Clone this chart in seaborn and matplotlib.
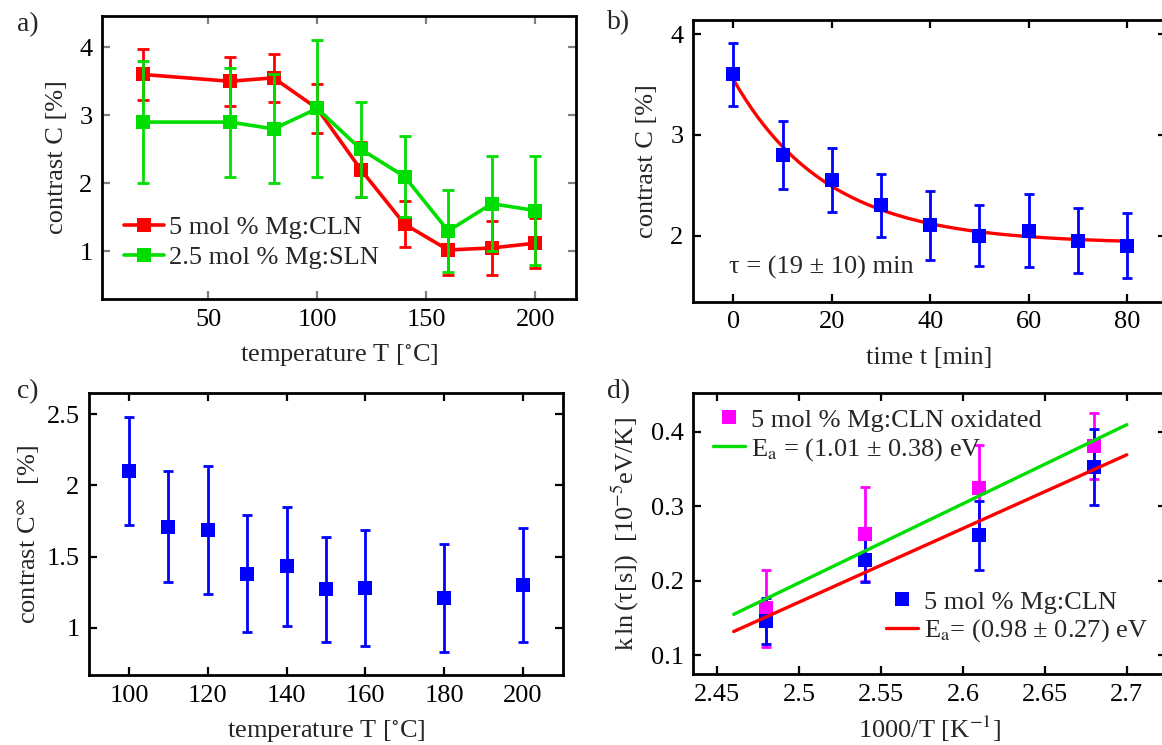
import numpy as np
import matplotlib
matplotlib.use('Agg')
import matplotlib.pyplot as plt
import seaborn as sns
from matplotlib.lines import Line2D
from matplotlib.ticker import FormatStrFormatter, MultipleLocator

# a) contrast vs annealing temperature
temp_a = [20, 60, 80, 100, 120, 140, 160, 180, 200]
cln_a = [3.60, 3.50, 3.55, 3.10, 2.20, 1.40, 1.02, 1.05, 1.12]
cln_a_err = [0.37, 0.36, 0.35, 0.36, 0.40, 0.34, 0.37, 0.40, 0.37]
sln_a = [2.90, 2.90, 2.80, 3.10, 2.50, 2.10, 1.30, 1.70, 1.60]
sln_a_err = [0.90, 0.80, 0.80, 1.00, 0.70, 0.60, 0.60, 0.70, 0.80]

# b) contrast decay with time
time_b = [0, 10, 20, 30, 40, 50, 60, 70, 80]
contrast_b = [3.60, 2.80, 2.55, 2.30, 2.10, 2.00, 2.05, 1.95, 1.90]
contrast_b_err = [0.31, 0.34, 0.32, 0.31, 0.34, 0.30, 0.36, 0.32, 0.32]
# fit C(t) = c_inf + amp * exp(-t / tau)
fit_tau = 19.0
fit_c_inf = 1.92
fit_amp = 1.63

# c) remaining contrast
temp_c = [100, 110, 120, 130, 140, 150, 160, 180, 200]
cinf_c = [2.10, 1.71, 1.69, 1.38, 1.43, 1.27, 1.28, 1.21, 1.30]
cinf_c_err = [0.38, 0.39, 0.45, 0.41, 0.42, 0.37, 0.41, 0.38, 0.40]

# d) Arrhenius plot
inv_temp_d = [2.48, 2.54, 2.61, 2.68]
ox_d = [0.163, 0.263, 0.325, 0.381]
ox_d_err = [0.052, 0.063, 0.057, 0.044]
cln_d = [0.146, 0.228, 0.261, 0.353]
cln_d_err = [0.031, 0.030, 0.046, 0.051]
fit_x_d = [2.46, 2.70]
ox_fit = (0.155, 1.06)      # value at 2.46, slope
cln_fit = (0.132, 0.9875)

RED = '#ff0000'
GREEN = '#00dd00'
BLUE = '#0000ff'
MAGENTA = '#ff00ff'

sns.set_theme(style='ticks')
plt.rcParams['font.family'] = ['Liberation Serif', 'DejaVu Serif']
plt.rcParams['mathtext.fontset'] = 'stix'
plt.rcParams['font.size'] = 19
plt.rcParams['axes.labelsize'] = 19
plt.rcParams['xtick.labelsize'] = 19
plt.rcParams['ytick.labelsize'] = 19
plt.rcParams['legend.fontsize'] = 19


def style(ax, tick_color='black'):
    for s in ax.spines.values():
        s.set_linewidth(2)
        s.set_color('black')
    ax.tick_params(direction='in', top=True, right=True, length=6, width=1.6,
                   color=tick_color, labelcolor='black', pad=7)
    ax.xaxis.set_major_formatter(FormatStrFormatter('%g'))
    ax.yaxis.set_major_formatter(FormatStrFormatter('%g'))


def errbars(ax, x, y, e, color, cap=3.5):
    ax.errorbar(x, y, yerr=e, fmt='none', ecolor=color, elinewidth=2,
                capsize=cap, capthick=2)


fig = plt.figure(figsize=(11.62, 7.45), dpi=100)

# ---- a)
ax = fig.add_axes([0.088, 0.5987, 0.4074, 0.3799])
errbars(ax, temp_a, cln_a, cln_a_err, RED, cap=4)
sns.lineplot(x=temp_a, y=cln_a, ax=ax, color=RED, lw=2.6, marker='s',
             markersize=9.5, markeredgewidth=0, label='5 mol % Mg:CLN')
errbars(ax, temp_a, sln_a, sln_a_err, GREEN, cap=4)
sns.lineplot(x=temp_a, y=sln_a, ax=ax, color=GREEN, lw=2.6, marker='s',
             markersize=9.5, markeredgewidth=0, label='2.5 mol % Mg:SLN')
ax.set_xlim(1.5, 218.4)
ax.set_ylim(0.30, 4.46)
ax.xaxis.set_major_locator(MultipleLocator(50))
ax.yaxis.set_major_locator(MultipleLocator(1))
ax.set_xlabel('temperature T [$^{\\circ}$C]', labelpad=8)
ax.set_ylabel('contrast C [%]', labelpad=8)
style(ax, tick_color='#808080')
ax.legend(loc='center left', bbox_to_anchor=(0.046, 0.2), frameon=False,
          borderpad=0, borderaxespad=0, handlelength=1.5, handletextpad=0.2,
          labelspacing=0.22)

# ---- b)
ax = fig.add_axes([0.5966, 0.595, 0.4069, 0.3781])
t_fit = np.linspace(0, 80, 200)
sns.lineplot(x=t_fit, y=fit_c_inf + fit_amp * np.exp(-t_fit / fit_tau),
             ax=ax, color=RED, lw=2.4, zorder=1)
errbars(ax, time_b, contrast_b, contrast_b_err, BLUE)
sns.scatterplot(x=time_b, y=contrast_b, ax=ax, color=BLUE, marker='s', s=90,
                linewidth=0, zorder=3)
ax.set_xlim(-8.15, 87.9)
ax.set_ylim(1.343, 4.14)
ax.xaxis.set_major_locator(MultipleLocator(20))
ax.yaxis.set_major_locator(MultipleLocator(1))
ax.set_xlabel('time t [min]', labelpad=10)
ax.set_ylabel('contrast C [%]', labelpad=9)
ax.text(0.075, 0.123, 'τ = (19 ± 10) min', transform=ax.transAxes,
        va='center', ha='left')
style(ax)

# ---- c)
ax = fig.add_axes([0.0768, 0.0936, 0.4076, 0.3785])
errbars(ax, temp_c, cinf_c, cinf_c_err, BLUE)
sns.scatterplot(x=temp_c, y=cinf_c, ax=ax, color=BLUE, marker='s', s=90,
                linewidth=0, zorder=3)
ax.set_xlim(89.9, 210.1)
ax.set_ylim(0.665, 2.648)
ax.xaxis.set_major_locator(MultipleLocator(20))
ax.yaxis.set_major_locator(MultipleLocator(0.5))
ax.set_xlabel('temperature T [$^{\\circ}$C]', labelpad=8)
ax.set_ylabel('contrast C$^{\\infty}$  [%]', labelpad=4)
style(ax)

# ---- d)
ax = fig.add_axes([0.5966, 0.0953, 0.4069, 0.3768])
errbars(ax, inv_temp_d, ox_d, ox_d_err, MAGENTA)
sns.scatterplot(x=inv_temp_d, y=ox_d, ax=ax, color=MAGENTA, marker='s', s=90,
                linewidth=0, zorder=3)
errbars(ax, inv_temp_d, cln_d, cln_d_err, BLUE)
sns.scatterplot(x=inv_temp_d, y=cln_d, ax=ax, color=BLUE, marker='s', s=90,
                linewidth=0, zorder=3)
xf = np.array(fit_x_d)
sns.lineplot(x=xf, y=ox_fit[0] + ox_fit[1] * (xf - fit_x_d[0]), ax=ax,
             color=GREEN, lw=2.4, zorder=4)
sns.lineplot(x=xf, y=cln_fit[0] + cln_fit[1] * (xf - fit_x_d[0]), ax=ax,
             color=RED, lw=2.4, zorder=4)
ax.set_xlim(2.4353, 2.724)
ax.set_ylim(0.075, 0.4515)
ax.xaxis.set_major_locator(MultipleLocator(0.05))
ax.yaxis.set_major_locator(MultipleLocator(0.1))
ax.set_xlabel('1000/T [K$^{-1}$]', labelpad=6)
ax.set_ylabel('k$\\,$ln$\\,$(τ[s])  [10$^{-5}$eV/K]', labelpad=7)
style(ax)

leg_kw = dict(frameon=False, borderpad=0, borderaxespad=0, handlelength=1.2,
              handletextpad=0.25, labelspacing=0.15, loc='center left')
h_ox = [Line2D([], [], marker='s', ls='none', color=MAGENTA, ms=9.5, mew=0),
        Line2D([], [], color=GREEN, lw=2.4)]
leg1 = ax.legend(h_ox, ['5 mol % Mg:CLN oxidated',
                        'E$_{\\rm a}$ = (1.01 ± 0.38) eV'],
                 bbox_to_anchor=(0.0417, 0.85), **leg_kw)
ax.add_artist(leg1)
h_cln = [Line2D([], [], marker='s', ls='none', color=BLUE, ms=9.5, mew=0),
         Line2D([], [], color=RED, lw=2.4)]
ax.legend(h_cln, ['5 mol % Mg:CLN', 'E$_{\\rm a}$= (0.98 ± 0.27) eV'],
          bbox_to_anchor=(0.408, 0.202), **leg_kw)

# panel letters
for lbl, x, y in [('a)', 28, 25), ('b)', 619, 23), ('c)', 28, 392), ('d)', 619, 392)]:
    fig.text(x / 1162, 1 - y / 745, lbl, ha='center', va='center', fontsize=20)

fig.savefig('out.png', dpi=100)
